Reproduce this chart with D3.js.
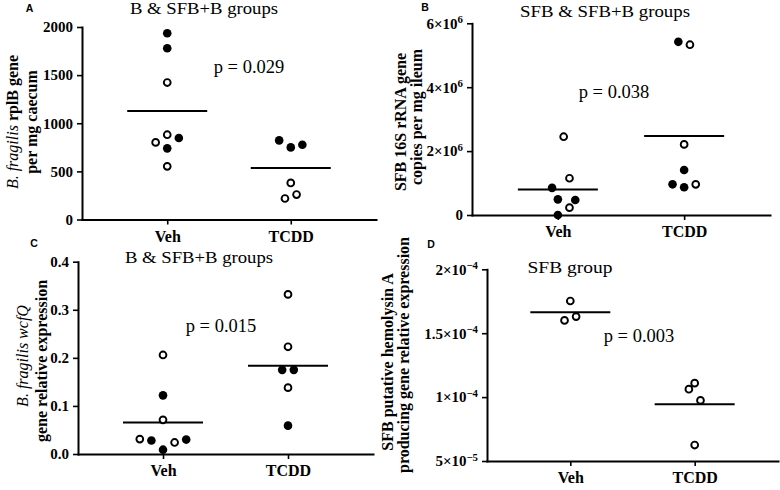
<!DOCTYPE html>
<html>
<head>
<meta charset="utf-8">
<script src="https://cdn.jsdelivr.net/npm/d3@7"></script>
<style>
  body { margin: 0; background: #fff; }
  svg { display: block; font-family: "Liberation Serif", "Times New Roman", serif; }
</style>
</head>
<body>
<svg id="fig" width="780" height="490"></svg>
<script>
const GROUPS = ['Veh', 'TCDD'];

// each point: [group, value, filled, spread slot]
const A_POINTS = [
  ['Veh', 1935, true, 0], ['Veh', 1779, true, 0], ['Veh', 1423, false, 0],
  ['Veh', 881, false, 0], ['Veh', 801, false, -2], ['Veh', 847, true, 2],
  ['Veh', 739, true, 0], ['Veh', 552, false, 0],
  ['TCDD', 822, true, -2], ['TCDD', 749, true, 0], ['TCDD', 777, true, 2],
  ['TCDD', 380, false, 0], ['TCDD', 218, false, -1], ['TCDD', 259, false, 1]
];
const A_MEANS = [1126, 536];
const A_TICKS = [0, 500, 1000, 1500, 2000];

const B_POINTS = [
  ['Veh', 2.45e6, false, 1], ['Veh', 1.15e6, false, 2], ['Veh', 0.85e6, true, -1],
  ['Veh', 0.49e6, true, 0], ['Veh', 0.47e6, true, 3], ['Veh', 0.23e6, false, 2],
  ['Veh', 0.0, true, 0],
  ['TCDD', 5.42e6, true, -1], ['TCDD', 5.33e6, false, 1], ['TCDD', 2.21e6, false, 0],
  ['TCDD', 1.41e6, true, 0], ['TCDD', 0.96e6, true, -2], ['TCDD', 0.87e6, true, 0],
  ['TCDD', 0.96e6, false, 2]
];
const B_MEANS = [0.80e6, 2.47e6];
const B_TICKS = [0, 2e6, 4e6, 6e6];

const C_POINTS = [
  ['Veh', 0.206, false, 0], ['Veh', 0.122, true, 0], ['Veh', 0.071, false, 0],
  ['Veh', 0.031, false, -4], ['Veh', 0.028, true, -2], ['Veh', 0.009, true, 0],
  ['Veh', 0.024, false, 2], ['Veh', 0.030, true, 4],
  ['TCDD', 0.332, false, 0], ['TCDD', 0.223, false, 0], ['TCDD', 0.175, true, -1],
  ['TCDD', 0.175, true, 1], ['TCDD', 0.138, false, 0], ['TCDD', 0.059, true, 0]
];
const C_MEANS = [0.0656, 0.1835];
const C_TICKS = [0, 0.1, 0.2, 0.3, 0.4];

const D_POINTS = [
  ['Veh', 1.752e-4, false, 0], ['Veh', 1.60e-4, false, -1], ['Veh', 1.63e-4, false, 1],
  ['TCDD', 1.109e-4, false, 0], ['TCDD', 1.062e-4, false, -1], ['TCDD', 0.974e-4, false, 1],
  ['TCDD', 0.625e-4, false, 0]
];
const D_MEANS = [1.664e-4, 0.945e-4];
const D_TICKS = [5e-5, 1e-4, 1.5e-4, 2e-4];

const TITLES = ['B & SFB+B groups', 'SFB & SFB+B groups', 'B & SFB+B groups', 'SFB group'];
const P_VALUES = ['p = 0.029', 'p = 0.038', 'p = 0.015', 'p = 0.003'];
const LETTERS = ['A', 'B', 'C', 'D'];
// y label lines, as [text, style] runs
const Y_LABELS = [
  [[['B. fragilis', 'i'], [' rplB gene', 'b']], [['per mg caecum', 'b']]],
  [[['SFB 16S rRNA gene', 'b']], [['copies per mg ileum', 'b']]],
  [[['B. fragilis wcfQ', 'i']], [['gene relative expression', 'b']]],
  [[['SFB putative hemolysin A', 'b']], [['producing gene relative expression', 'b']]]
];

const fmtPlain = d => (d === 0 ? '0' : String(d));
const fmtFixed1 = d3.format('.1f');
function fmtPow(d) {
  if (d === 0) return ['0', null];
  const e = Math.floor(Math.log10(d) + 1e-9);
  const m = +(d / Math.pow(10, e)).toFixed(2);
  return [m + '\u00d710', String(e).replace('-', '\u2212')];
}

const PANELS = [
  { points: A_POINTS, means: A_MEANS, ticks: A_TICKS, domain: [0, 2000], fmt: fmtPlain,
    x: [82, 376], y: [219.5, 27], pad: 0.69, title: [204, 14, 148], p: [249, 73], letter: [29.5, 12],
    ylab: [[12, 122], [31, 122]] },
  { points: B_POINTS, means: B_MEANS, ticks: B_TICKS, domain: [0, 6e6], fmt: fmtPow,
    x: [472, 770], y: [215, 23.3], pad: 0.68, title: [605, 17, 170], p: [614, 98], letter: [425, 10.5],
    ylab: [[400, 122], [416, 117]] },
  { points: C_POINTS, means: C_MEANS, ticks: C_TICKS, domain: [0, 0.4], fmt: fmtFixed1,
    x: [78, 373], y: [454, 261.7], pad: 0.68, title: [199, 262.5, 148], p: [221, 331.5], letter: [34, 247],
    ylab: [[22, 356], [41, 361]] },
  { points: D_POINTS, means: D_MEANS, ticks: D_TICKS, domain: [5e-5, 2e-4], fmt: fmtPow,
    x: [487, 778], y: [461, 269.3], pad: 0.67, title: [570, 273, 85], p: [639, 341.5], letter: [431, 248],
    ylab: [[387, 362], [403, 355]] }
];

const SLOT = 5.8;
const svg = d3.select('#fig');

PANELS.forEach((cfg, i) => {
  const g = svg.append('g');
  const x = d3.scalePoint().domain(GROUPS).range(cfg.x).padding(cfg.pad);
  const y = d3.scaleLinear().domain(cfg.domain).range(cfg.y);

  // axes
  const yAxis = d3.axisLeft(y).tickValues(cfg.ticks).tickSize(5).tickSizeOuter(0).tickPadding(4);
  const yg = g.append('g').attr('transform', `translate(${cfg.x[0]},0)`).call(yAxis);
  yg.selectAll('text').each(function (d) {
    const t = d3.select(this);
    const f = cfg.fmt(d);
    t.text(null);
    if (Array.isArray(f)) {
      t.append('tspan').text(f[0]);
      if (f[1] !== null) {
        t.append('tspan').attr('dy', '-0.5em').attr('font-size', '0.72em').text(f[1]);
      }
    } else {
      t.text(f);
    }
  });

  const xAxis = d3.axisBottom(x).tickSize(5).tickSizeOuter(0).tickPadding(6);
  const xg = g.append('g').attr('transform', `translate(0,${cfg.y[0]})`).call(xAxis);

  [yg, xg].forEach(ax => {
    ax.attr('font-family', null);
    ax.select('.domain').attr('stroke', '#000').attr('stroke-width', 2).attr('stroke-linecap', 'square');
    ax.selectAll('.tick line').attr('stroke', '#000').attr('stroke-width', 1.6);
    ax.selectAll('text')
      .attr('fill', '#000')
      .attr('font-family', '"Liberation Serif", "Times New Roman", serif')
      .attr('font-weight', 700);
  });
  yg.selectAll('text').attr('font-size', 15);
  xg.selectAll('text').attr('font-size', 16);

  // mean lines
  g.selectAll('line.mean')
    .data(cfg.means)
    .enter()
    .append('line')
    .attr('class', 'mean')
    .attr('x1', (d, k) => x(GROUPS[k]) - 40)
    .attr('x2', (d, k) => x(GROUPS[k]) + 40)
    .attr('y1', d => y(d))
    .attr('y2', d => y(d))
    .attr('stroke', '#000')
    .attr('stroke-width', 2);

  // dots
  g.selectAll('circle')
    .data(cfg.points)
    .enter()
    .append('circle')
    .attr('cx', d => x(d[0]) + d[3] * SLOT)
    .attr('cy', d => y(d[1]))
    .attr('r', d => (d[2] ? 4.3 : 3.4))
    .attr('fill', d => (d[2] ? '#000' : '#fff'))
    .attr('stroke', d => (d[2] ? 'none' : '#000'))
    .attr('stroke-width', 1.9);

  // title and p value
  g.append('text')
    .attr('x', cfg.title[0]).attr('y', cfg.title[1])
    .attr('text-anchor', 'middle').attr('font-size', 17)
    .attr('textLength', cfg.title[2]).attr('lengthAdjust', 'spacingAndGlyphs')
    .text(TITLES[i]);
  g.append('text')
    .attr('x', cfg.p[0]).attr('y', cfg.p[1])
    .attr('text-anchor', 'middle').attr('font-size', 18.5)
    .text(P_VALUES[i]);

  g.append('text')
    .attr('x', cfg.letter[0]).attr('y', cfg.letter[1])
    .attr('text-anchor', 'middle')
    .attr('font-family', '"Liberation Sans", Arial, sans-serif')
    .attr('font-weight', 700).attr('font-size', 10.5)
    .text(LETTERS[i]);

  // rotated y label
  Y_LABELS[i].forEach((runs, li) => {
    const [cx, cy] = cfg.ylab[li];
    const t = g.append('text')
      .attr('transform', `translate(${cx},${cy}) rotate(-90)`)
      .attr('text-anchor', 'middle')
      .attr('dy', '0.35em')
      .attr('font-size', 16);
    runs.forEach(([txt, style]) => {
      t.append('tspan')
        .attr('font-style', style === 'i' ? 'italic' : 'normal')
        .attr('font-weight', style === 'b' ? 700 : 400)
        .text(txt);
    });
  });
});
</script>
</body>
</html>
